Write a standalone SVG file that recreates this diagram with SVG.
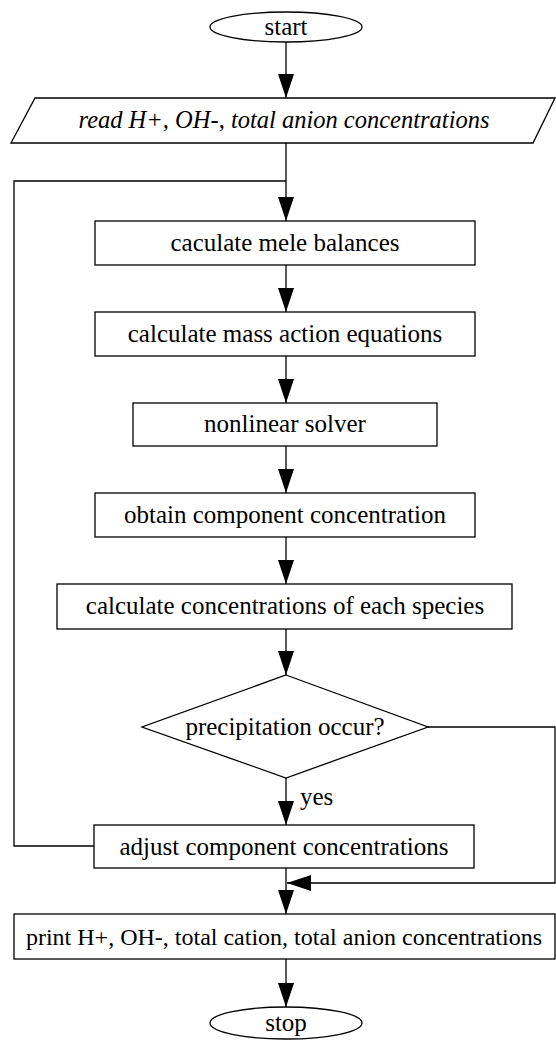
<svg xmlns="http://www.w3.org/2000/svg" width="556" height="1049" viewBox="0 0 556 1049">
<defs>
<marker id="ah" markerUnits="userSpaceOnUse" markerWidth="24" markerHeight="16" refX="24" refY="8" orient="auto">
<path d="M0,0 L24,8 L0,16 z" fill="#000"/>
</marker>
<style>
.s{fill:#fff;stroke:#000;stroke-width:1.3}
.c{fill:none;stroke:#000;stroke-width:1.3}
.t{font-family:"Liberation Serif","Times New Roman",serif;font-size:25px;fill:#000;text-anchor:middle}
.i{font-style:italic}
</style>
</defs>
<rect width="556" height="1049" fill="#fff"/>
<g id="connectors">
<line class="c" x1="286" y1="42" x2="286" y2="98" marker-end="url(#ah)"/>
<line class="c" x1="286" y1="143" x2="286" y2="221" marker-end="url(#ah)"/>
<polyline class="c" points="94,846 14,846 14,181 286,181"/>
<line class="c" x1="286" y1="265" x2="286" y2="312" marker-end="url(#ah)"/>
<line class="c" x1="286" y1="356" x2="286" y2="403" marker-end="url(#ah)"/>
<line class="c" x1="286" y1="446" x2="286" y2="493" marker-end="url(#ah)"/>
<line class="c" x1="286" y1="537" x2="286" y2="584" marker-end="url(#ah)"/>
<line class="c" x1="286" y1="629" x2="286" y2="675" marker-end="url(#ah)"/>
<line class="c" x1="286" y1="778" x2="286" y2="825" marker-end="url(#ah)"/>
<line class="c" x1="286" y1="868" x2="286" y2="914" marker-end="url(#ah)"/>
<polyline class="c" points="428,727 555,727 555,883 287,883" marker-end="url(#ah)"/>
<line class="c" x1="286" y1="959" x2="286" y2="1007" marker-end="url(#ah)"/>
<text class="t" x="300" y="805" style="text-anchor:start">yes</text>
</g>
<g id="start">
<ellipse class="s" cx="286" cy="27" rx="76" ry="15"/>
<text class="t" x="286" y="35">start</text>
</g>
<g id="read">
<polygon class="s" points="35,98 555,98 533,143 11,143"/>
<text class="t i" x="284" y="128" style="font-size:24.5px">read H+, OH-, total anion concentrations</text>
</g>
<g id="mole">
<rect class="s" x="95" y="221" width="380" height="44"/>
<text class="t" x="285" y="251">caculate mele balances</text>
</g>
<g id="massaction">
<rect class="s" x="95" y="312" width="380" height="44"/>
<text class="t" x="285" y="342">calculate mass action equations</text>
</g>
<g id="solver">
<rect class="s" x="133" y="403" width="304" height="43"/>
<text class="t" x="285" y="432">nonlinear solver</text>
</g>
<g id="obtain">
<rect class="s" x="95" y="493" width="380" height="44"/>
<text class="t" x="285" y="523">obtain component concentration</text>
</g>
<g id="species">
<rect class="s" x="57" y="584" width="455" height="45"/>
<text class="t" x="285" y="614">calculate concentrations of each species</text>
</g>
<g id="decision">
<polygon class="s" points="286,675 428,727 286,778 142,727"/>
<text class="t" x="285" y="735">precipitation occur?</text>
</g>
<g id="adjust">
<rect class="s" x="94" y="825" width="380" height="43"/>
<text class="t" x="284" y="855">adjust component concentrations</text>
</g>
<g id="print">
<rect class="s" x="14" y="914" width="541" height="45"/>
<text class="t" x="284" y="945" style="font-size:24px">print H+, OH-, total cation, total anion concentrations</text>
</g>
<g id="stop">
<ellipse class="s" cx="286" cy="1023" rx="76" ry="16"/>
<text class="t" x="286" y="1031">stop</text>
</g>
</svg>
